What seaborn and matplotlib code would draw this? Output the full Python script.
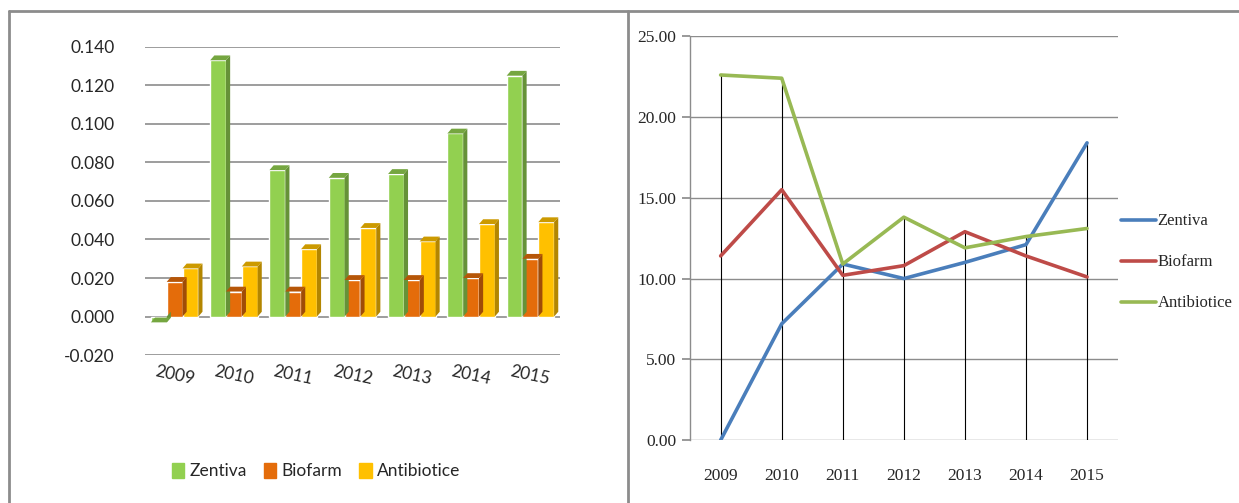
import numpy as np
import pandas as pd
import matplotlib.pyplot as plt
import seaborn as sns
from matplotlib.patches import Polygon
from matplotlib.lines import Line2D
import matplotlib.colors as mcolors

years = [2009, 2010, 2011, 2012, 2013, 2014, 2015]
companies = ['Zentiva', 'Biofarm', 'Antibiotice']

# left chart (bars)
bar_zentiva = [-0.003, 0.133, 0.076, 0.072, 0.074, 0.095, 0.125]
bar_biofarm = [0.018, 0.013, 0.013, 0.019, 0.019, 0.020, 0.030]
bar_antibiotice = [0.025, 0.026, 0.035, 0.046, 0.039, 0.048, 0.049]

# right chart (lines)
line_zentiva = [0.0, 7.2, 10.9, 10.0, 11.0, 12.1, 18.4]
line_biofarm = [11.4, 15.5, 10.2, 10.8, 12.9, 11.4, 10.1]
line_antibiotice = [22.6, 22.4, 10.9, 13.8, 11.9, 12.6, 13.1]

bar_colors = {'Zentiva': '#92D050', 'Biofarm': '#E46C0A', 'Antibiotice': '#FFC000'}
line_colors = {'Zentiva': '#4A7EBB', 'Biofarm': '#BE4B48', 'Antibiotice': '#98B954'}

sns.set_theme(style='white')
plt.rcParams['font.family'] = ['Lato', 'DejaVu Sans']

df_bar = pd.DataFrame({
    'year': [str(y) for y in years] * 3,
    'company': [c for c in companies for _ in years],
    'value': bar_zentiva + bar_biofarm + bar_antibiotice,
})
df_line = pd.DataFrame({
    'year': years * 3,
    'company': [c for c in companies for _ in years],
    'value': line_zentiva + line_biofarm + line_antibiotice,
})

fig = plt.figure(figsize=(12.39, 5.03), dpi=100)

# ---- left: pseudo 3D clustered columns
ax1 = fig.add_axes([0.117, 0.294, 0.335, 0.613])
sns.barplot(data=df_bar, x='year', y='value', hue='company', hue_order=companies,
            palette=bar_colors, width=0.8, saturation=1, ax=ax1, legend=False, zorder=3)
ax1.set_ylim(-0.02, 0.14)
ax1.set_yticks(np.arange(-0.02, 0.1401, 0.02))
ax1.set_yticklabels([f'{v:.3f}' for v in np.arange(-0.02, 0.1401, 0.02)], fontsize=12.5)
ax1.yaxis.grid(True, color='#8C8C8C', linewidth=1.2)
ax1.set_axisbelow(True)
for s in ax1.spines.values():
    s.set_visible(False)
ax1.tick_params(axis='y', length=0, pad=22)
ax1.tick_params(axis='x', length=0, pad=6)
for lab in ax1.get_xticklabels():
    lab.set_rotation(-12)
    lab.set_fontsize(12.5)
ax1.set_xlabel('')
ax1.set_ylabel('')

# depth faces derived from each bar
dx, dy = 0.07, 0.0025
for p in list(ax1.patches):
    x, w = p.get_x(), p.get_width()
    y0 = 0
    y1 = p.get_height()
    base = np.array(mcolors.to_rgb(p.get_facecolor()))
    side = Polygon([(x + w, y0), (x + w + dx, y0 + dy), (x + w + dx, y1 + dy), (x + w, y1)],
                   closed=True, facecolor=base * 0.7, edgecolor='none', zorder=3)
    top = Polygon([(x, y1), (x + dx, y1 + dy), (x + w + dx, y1 + dy), (x + w, y1)],
                  closed=True, facecolor=base * 0.8, edgecolor='none', zorder=3)
    ax1.add_patch(side)
    ax1.add_patch(top)

handles = [plt.Rectangle((0, 0), 1, 1, color=bar_colors[c]) for c in companies]
fig.legend(handles, companies, loc='center', bbox_to_anchor=(0.255, 0.063), ncol=3,
           frameon=False, fontsize=12.5, handlelength=0.7, handleheight=0.9,
           handletextpad=0.3, columnspacing=1.0)

# ---- right: lines with drop lines
ax2 = fig.add_axes([0.557, 0.125, 0.345, 0.803])
serif = ['Liberation Serif', 'DejaVu Serif']
hi = df_line.groupby('year')['value'].max()
ax2.vlines(hi.index, 0, hi.values, color='black', linewidth=0.8, zorder=1)
sns.lineplot(data=df_line, x='year', y='value', hue='company', hue_order=companies,
             palette=line_colors, linewidth=2.6, ax=ax2, zorder=3)
ax2.set_xlim(2008.5, 2015.5)
ax2.set_ylim(0, 25)
ax2.set_yticks(np.arange(0, 25.1, 5))
ax2.set_yticklabels([f'{v:.2f}' for v in np.arange(0, 25.1, 5)], fontsize=12.5, family=serif)
ax2.set_xticks(years)
ax2.set_xticklabels([str(y) for y in years], fontsize=12.5, family=serif)
ax2.yaxis.grid(True, color='#8C8C8C', linewidth=1.0)
ax2.set_axisbelow(True)
for k in ['top', 'right', 'bottom']:
    ax2.spines[k].set_visible(False)
ax2.spines['left'].set_color('#8C8C8C')
ax2.spines['left'].set_linewidth(1.0)
ax2.tick_params(axis='y', length=6, color='#8C8C8C', direction='out', left=True, pad=4)
ax2.tick_params(axis='x', length=0, pad=20)
ax2.set_xlabel('')
ax2.set_ylabel('')
leg = ax2.legend(loc='center left', bbox_to_anchor=(0.98, 0.44), frameon=False,
                 prop={'family': serif, 'size': 12}, handlelength=2.1, handletextpad=0.1,
                 labelspacing=1.5, borderaxespad=0.3)
for h in leg.legend_handles:
    h.set_linewidth(2.6)

# panel borders
border = '#8C8C8C'
fig.add_artist(Line2D([0.0073, 1.0], [0.978, 0.978], color=border, linewidth=2, transform=fig.transFigure))
fig.add_artist(Line2D([0.0073, 0.0073], [0.0, 0.978], color=border, linewidth=2, transform=fig.transFigure))
fig.add_artist(Line2D([0.507, 0.507], [0.0, 0.978], color=border, linewidth=2, transform=fig.transFigure))

plt.savefig('out.png', dpi=100)
